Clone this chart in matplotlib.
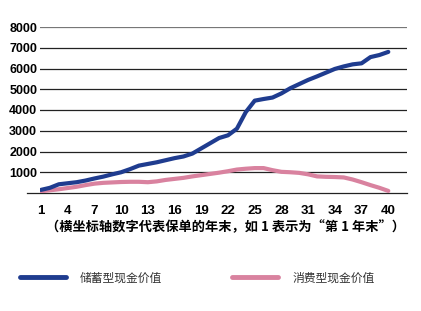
import numpy as np
import matplotlib.pyplot as plt

plt.rcParams['font.family'] = ['Liberation Sans', 'Noto Sans CJK SC', 'DejaVu Sans']

# 数据
years = np.arange(1, 41)
savings = [150, 250, 420, 470, 520, 600, 700, 790, 900, 1000,
           1150, 1320, 1400, 1480, 1580, 1680, 1760, 1900, 2150, 2400,
           2650, 2780, 3100, 3900, 4450, 4530, 4600, 4800, 5050, 5250,
           5450, 5620, 5800, 5980, 6100, 6200, 6250, 6550, 6650, 6800]
consume = [80, 130, 180, 240, 300, 380, 450, 490, 510, 530,
           540, 540, 520, 560, 630, 680, 730, 800, 860, 920,
           980, 1050, 1130, 1170, 1200, 1200, 1100, 1020, 1000, 970,
           900, 800, 780, 770, 750, 650, 520, 380, 250, 100]
xticks = list(range(1, 41, 3))
yticks = list(range(1000, 8001, 1000))

blue = '#1f3c8f'
pink = '#d9829f'

fig = plt.figure(figsize=(4.21, 3.11), dpi=100)
ax = fig.add_axes([40 / 421, 1 - 193 / 311, 367 / 421, 166 / 311])

for v in yticks:
    ax.axhline(v, color='#222222' if v < 8000 else '#777777', lw=0.9, zorder=1)
ax.plot([-0.6, 42.1], [0, 0], color='#222222', lw=0.9, clip_on=False, zorder=1)

ax.plot(years, savings, color=blue, lw=3, solid_capstyle='round', zorder=3)
ax.plot(years, consume, color=pink, lw=3, solid_capstyle='round', zorder=2)

ax.set_xlim(0.89, 42.1)
ax.set_ylim(0, 8000)
ax.set_xticks(xticks)
ax.set_xticklabels([str(x) for x in xticks], fontsize=9.5, fontweight='bold')
ax.set_yticks(yticks)
ax.set_yticklabels([str(v) for v in yticks], fontsize=9, fontweight='bold')
ax.tick_params(length=0, pad=2)
ax.tick_params(axis='x', pad=9)
for s in ax.spines.values():
    s.set_visible(False)

fig.text(225 / 421, 1 - 227 / 311, '（横坐标轴数字代表保单的年末，如 1 表示为“第 1 年末”）',
         ha='center', va='center', fontsize=9.5, fontweight='bold',
         family=['Noto Sans CJK SC', 'DejaVu Sans'])

h1, = ax.plot([], [], color=blue, lw=3.5, solid_capstyle='round')
h2, = ax.plot([], [], color=pink, lw=3.5, solid_capstyle='round')
fig.legend([h1, h2], ['储蓄型现金价值', '消费型现金价值'], loc='center left',
           bbox_to_anchor=(20 / 421, 1 - 278 / 311), ncol=2, frameon=False,
           borderpad=0, borderaxespad=0, handlelength=3.9, handletextpad=1.2,
           columnspacing=5.9, prop={'family': 'Noto Sans CJK SC', 'size': 8.5},
           labelcolor='#333333')

fig.savefig('out.png', dpi=100)
